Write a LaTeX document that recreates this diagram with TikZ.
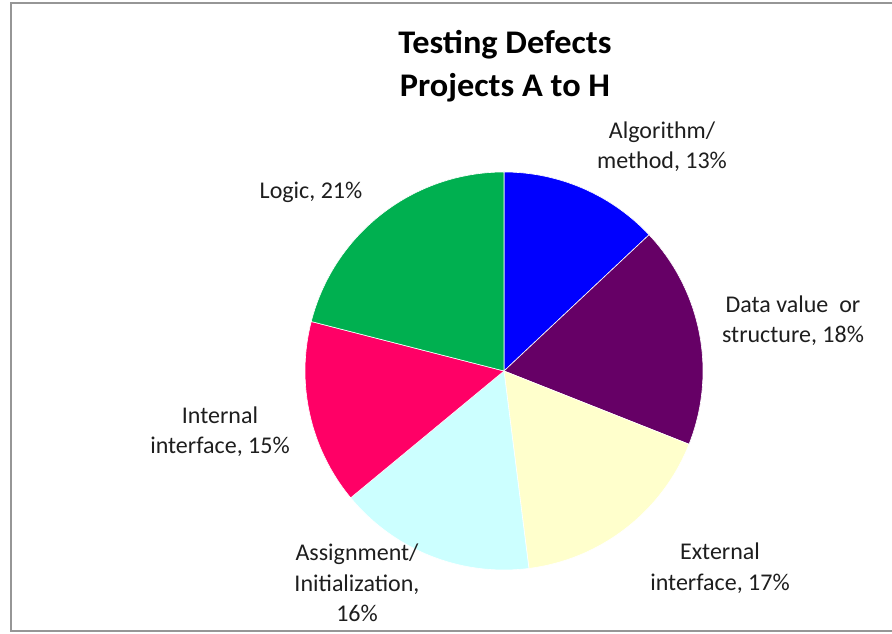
\documentclass[tikz,border=0pt]{standalone}
\usepackage{fontspec}
\setmainfont{Carlito}
\definecolor{algoblue}{RGB}{0,0,255}
\definecolor{datapurple}{RGB}{102,0,102}
\definecolor{extyellow}{RGB}{255,255,204}
\definecolor{assigncyan}{RGB}{204,255,255}
\definecolor{intpink}{RGB}{255,0,102}
\definecolor{logicgreen}{RGB}{0,176,80}
\definecolor{framegray}{RGB}{150,150,150}
\definecolor{labelgray}{RGB}{30,30,30}
\begin{document}
\begin{tikzpicture}[x=1pt,y=1pt,
  slice/.style={draw=white,line width=0.6pt},
  lbl/.style={align=center,text=labelgray,inner sep=0pt,
    font=\fontsize{24}{30.5}\selectfont},
  ttl/.style={align=center,text=black,inner sep=0pt,xscale=1.04,
    font=\fontsize{33}{43}\selectfont\bfseries}]
\useasboundingbox (0,0) rectangle (892,634);
% chart frame
\draw[framegray,line width=1.5pt] (11,3) rectangle (900,631);
% pie: centre and radius
\def\R{199}
\coordinate (c) at (504,263);
% slices, clockwise from 12 o'clock
\fill[slice,fill=algoblue]   (c) -- ++(90:\R)     arc (90:43.2:\R)     -- cycle;
\fill[slice,fill=datapurple] (c) -- ++(43.2:\R)   arc (43.2:-21.6:\R)  -- cycle;
\fill[slice,fill=extyellow]  (c) -- ++(-21.6:\R)  arc (-21.6:-82.8:\R) -- cycle;
\fill[slice,fill=assigncyan] (c) -- ++(-82.8:\R)  arc (-82.8:-140.4:\R) -- cycle;
\fill[slice,fill=intpink]    (c) -- ++(-140.4:\R) arc (-140.4:-194.4:\R) -- cycle;
\fill[slice,fill=logicgreen] (c) -- ++(165.6:\R)  arc (165.6:90:\R)    -- cycle;
% title
\node[ttl] (title) at (505,567.5) {Testing Defects\\Projects A to H};
% data labels
\node[lbl] (algo)   at (662,487.5) {Algorithm/\\method, 13\%};
\node[lbl] (data)   at (793,313.5) {Data value~ or\\structure, 18\%};
\node[lbl] (ext)    at (720,66)    {External\\interface, 17\%};
\node[lbl] (assign) at (357,51)    {Assignment/\\Initialization,\\16\%};
\node[lbl] (int)    at (220,202.5) {Internal\\interface, 15\%};
\node[lbl] (logic)  at (311,442)   {Logic, 21\%};
\end{tikzpicture}
\end{document}
